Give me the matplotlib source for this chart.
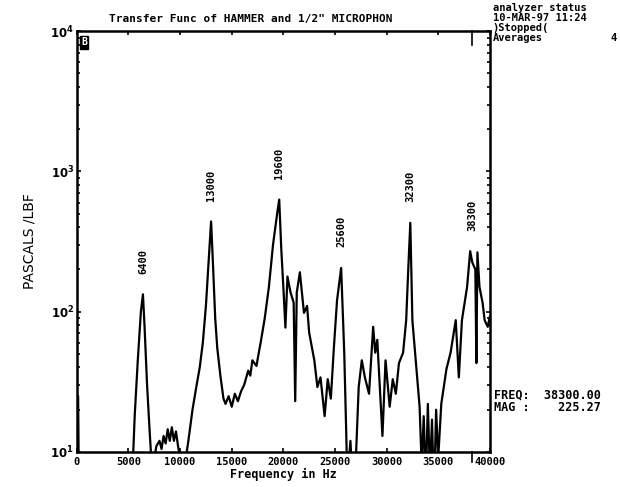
import numpy as np
import matplotlib
matplotlib.use("Agg")
import matplotlib.pyplot as plt
from matplotlib.ticker import FixedLocator, LogLocator, NullFormatter

# spectrum (Hz, Pa/lbf)
freq = [0, 120, 200, 5300, 5600, 5900, 6200, 6400, 6550, 6800, 7050, 7250, 7500, 7700,
        8000, 8200, 8400, 8600, 8800, 9000, 9200, 9400, 9600, 9800, 10000, 10200, 10500,
        10800, 11200, 11600, 11900, 12200, 12500, 12800, 13000, 13150, 13400, 13600, 13900,
        14200, 14400, 14700, 15000, 15300, 15600, 15900, 16200, 16600, 16800, 17000, 17400,
        17600, 17800, 18200, 18600, 19000, 19400, 19600, 19800, 20000, 20200, 20400, 20700,
        21000, 21150, 21300, 21600, 22000, 22300, 22500, 23000, 23300, 23600, 24000, 24300,
        24600, 24900, 25200, 25600, 25900, 26100, 26200, 26500, 26700, 27000, 27300, 27600,
        27900, 28300, 28700, 28900, 29100, 29400, 29600, 29900, 30300, 30600, 30900, 31200,
        31600, 31900, 32100, 32300, 32500, 32900, 33200, 33400, 33600, 33800, 34000, 34200,
        34400, 34600, 34800, 35000, 35300, 35800, 36200, 36700, 37000, 37300, 37800, 38100,
        38300, 38600, 38700, 38800, 39000, 39300, 39500, 39800, 40000]
mag = [25, 25, 5, 5, 18, 45, 100, 133, 80, 30, 14, 8, 9, 11,
       12, 10.5, 13, 11.5, 14.5, 12, 15, 12, 14, 11, 9, 7, 8.5,
       12, 20, 30, 40, 60, 110, 250, 440, 250, 90, 55, 35,
       24, 22, 25, 21, 26, 23, 27, 30, 38, 35, 45, 41,
       50, 60, 90, 150, 300, 500, 630, 280, 150, 77, 178, 137,
       116, 23, 137, 191, 98, 110, 71, 45, 29, 34, 18, 33,
       24, 56, 120, 205, 51, 13, 6, 12, 6, 8, 29, 45,
       34, 26, 78, 51, 63, 24, 13, 45, 21, 33, 26, 43,
       51, 87, 200, 430, 87, 39, 21, 8, 18, 6, 22, 7,
       17, 5, 20, 9, 22, 39, 51, 87, 34, 87, 150, 270,
       225, 200, 43, 265, 150, 116, 87, 78, 92]

peak_freq = [6400, 13000, 19600, 25600, 32300, 38300]
peak_mag = [133, 440, 630, 205, 430, 270]
peak_lbl = ["6400", "13000", "19600", "25600", "32300", "38300"]

cursor_f = 38300
cursor_mag = 225.27

mono = "DejaVu Sans Mono"

fig = plt.figure(figsize=(6.2, 4.87), dpi=100)
ax = fig.add_axes([0.124, 0.072, 0.666, 0.864])
ax.plot(freq, mag, color="black", lw=1.6)
ax.set_yscale("log")
ax.set_xlim(0, 40000)
ax.set_ylim(10, 10000)

# peak labels, rotated like the analyzer prints them
for f, m, s in zip(peak_freq, peak_mag, peak_lbl):
    ax.text(f, m * 1.4, s, rotation=90, ha="center", va="bottom",
            family=mono, weight="bold", fontsize=7.5)

ax.xaxis.set_major_locator(FixedLocator(np.arange(0, 40001, 5000)))
ax.set_xticklabels([str(v) for v in range(0, 40001, 5000)],
                   family=mono, weight="bold", fontsize=7.5)
ax.yaxis.set_major_locator(FixedLocator([10, 100, 1000, 10000]))
ax.set_yticklabels([r"$\mathbf{10^{%d}}$" % k for k in range(1, 5)], fontsize=8.5)
ax.yaxis.set_minor_locator(LogLocator(base=10, subs=np.arange(2, 10)))
ax.yaxis.set_minor_formatter(NullFormatter())
ax.tick_params(axis="both", which="both", direction="in", top=True, right=True,
               length=3, width=1.2, pad=2)
ax.tick_params(axis="x", pad=4)
ax.tick_params(axis="y", which="minor", length=2)
for sp in ax.spines.values():
    sp.set_linewidth(1.8)

# cursor marks
ax.plot([cursor_f, cursor_f], [10000, 8000], color="black", lw=1.2, clip_on=False)
ax.plot([cursor_f, cursor_f], [10, 8.5], color="black", lw=1.2, clip_on=False)

ax.set_xlabel("Frequency in Hz", family=mono, weight="bold", fontsize=8.5, labelpad=0)
ax.set_ylabel("PASCALS /LBF", fontsize=10, labelpad=10)

fig.text(0.405, 0.962, 'Transfer Func of HAMMER and 1/2" MICROPHON', ha="center",
         va="center", family=mono, weight="bold", fontsize=8)
ax.text(0.01, 0.985, "B", transform=ax.transAxes, ha="left", va="top", color="white",
        family=mono, weight="bold", fontsize=7,
        bbox=dict(boxstyle="square,pad=0.15", fc="black", ec="black"))

# analyzer status panel
status = ["analyzer status", "10-MAR-97 11:24", ")Stopped(", "Averages"]
for i, s in enumerate(status):
    fig.text(0.795, 0.983 - i * 0.0205, s, ha="left", va="center", family=mono,
             weight="bold", fontsize=7.5)
fig.text(0.985, 0.9215, "4", ha="left", va="center", family=mono, weight="bold", fontsize=7.5)
fig.text(0.797, 0.189, "FREQ: %9.2f" % cursor_f, ha="left", va="center", family=mono,
         weight="bold", fontsize=8.5)
fig.text(0.797, 0.164, "MAG : %9.2f" % cursor_mag, ha="left", va="center", family=mono,
         weight="bold", fontsize=8.5)

fig.savefig("out.png", dpi=100)
